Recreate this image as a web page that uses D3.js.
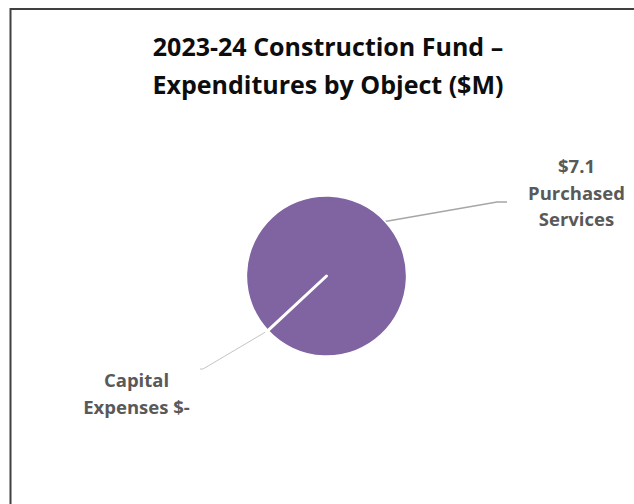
<!DOCTYPE html>
<html>
<head>
<meta charset="utf-8">
<script src="https://cdn.jsdelivr.net/npm/d3@7"></script>
<style>
  html, body { margin: 0; padding: 0; background: #fff; }
  svg { display: block; }
</style>
</head>
<body>
<svg id="chart" width="634" height="504"></svg>
<script>
// Expenditure categories and amounts ($M)
const categories = ["Capital Expenses", "Purchased Services"];
const values = [0, 7.1];
const titleLines = ["2023-24 Construction Fund \u2013", "Expenditures by Object ($M)"];

const W = 634, H = 504;
const svg = d3.select("#chart");
const FONT = "'Open Sans', Lato, sans-serif";

// chart frame (runs off the right and bottom edges)
svg.append("rect")
  .attr("x", 10.5).attr("y", 9)
  .attr("width", W + 20).attr("height", H + 20)
  .attr("fill", "#fff")
  .attr("stroke", "#404040")
  .attr("stroke-width", 2);

// title
const title = svg.append("text")
  .attr("text-anchor", "middle")
  .attr("font-family", FONT)
  .attr("font-weight", 700)
  .attr("font-size", 25)
  .attr("fill", "#0d0d0d");
title.selectAll("tspan").data(titleLines).join("tspan")
  .attr("x", 328)
  .attr("y", (d, i) => 56 + i * 37.5)
  .text(d => d);

// pie geometry
const cx = 326.5, cy = 276, R = 80;
const deg = Math.PI / 180;
const start = 227 * deg;

const pie = d3.pie().sort(null).value(d => d.value)
  .startAngle(start).endAngle(start + 2 * Math.PI);
const data = categories.map((c, i) => ({ name: c, value: values[i] }));
const arcs = pie(data);

const arc = d3.arc().innerRadius(0).outerRadius(R);
const colors = d3.scaleOrdinal().domain(categories).range(["#4f81bd", "#8064a2"]);

const g = svg.append("g").attr("transform", `translate(${cx},${cy})`);

const pointAt = (a, r) => [Math.sin(a) * r, -Math.cos(a) * r];
const fmt = v => v === 0 ? "$-" : "$" + d3.format(".1f")(v);

// label layout per slice: elbow and end of leader, label anchor and lines
const layout = {
  "Purchased Services": {
    elbow: [170.5, -74], end: [180.5, -74],
    anchor: [250, -103], lines: d => [fmt(d.value), "Purchased", "Services"]
  },
  "Capital Expenses": {
    elbow: [-123.5, 93], end: [-126.5, 93],
    anchor: [-190, 111], lines: d => ["Capital", "Expenses " + fmt(d.value)]
  }
};

// leader lines
arcs.forEach(a => {
  const L = layout[a.data.name];
  const mid = (a.startAngle + a.endAngle) / 2;
  const p0 = pointAt(mid, R);
  g.append("polyline")
    .attr("points", [p0, L.elbow, L.end].map(p => p.join(",")).join(" "))
    .attr("fill", "none")
    .attr("stroke", a.value === 0 ? "#c4c4c4" : "#a6a6a6")
    .attr("stroke-width", a.value === 0 ? 1 : 1.5);
});

// slices
g.selectAll("path.slice").data(arcs).join("path")
  .attr("class", "slice")
  .attr("d", arc)
  .attr("fill", d => colors(d.data.name))
  .attr("stroke", "#fff")
  .attr("stroke-width", 1.5);

// slice borders (radial edges), visible where a slice has zero width
const radial = d3.lineRadial().angle(d => d[0]).radius(d => d[1]);
g.selectAll("path.edge").data(arcs.filter(a => a.value === 0)).join("path")
  .attr("class", "edge")
  .attr("d", a => radial([[a.startAngle, 0], [a.startAngle, R + 2]]))
  .attr("fill", "none")
  .attr("stroke", "#fff")
  .attr("stroke-width", 3)
  .attr("stroke-linecap", "round");

// data labels
arcs.forEach(a => {
  const L = layout[a.data.name];
  const t = g.append("text")
    .attr("text-anchor", "middle")
    .attr("font-family", FONT)
    .attr("font-weight", 700)
    .attr("font-size", 18.5)
    .attr("fill", "#595959");
  t.selectAll("tspan").data(L.lines(a.data)).join("tspan")
    .attr("x", L.anchor[0])
    .attr("y", (d, i) => L.anchor[1] + i * 26.5)
    .text(d => d);
});
</script>
</body>
</html>
